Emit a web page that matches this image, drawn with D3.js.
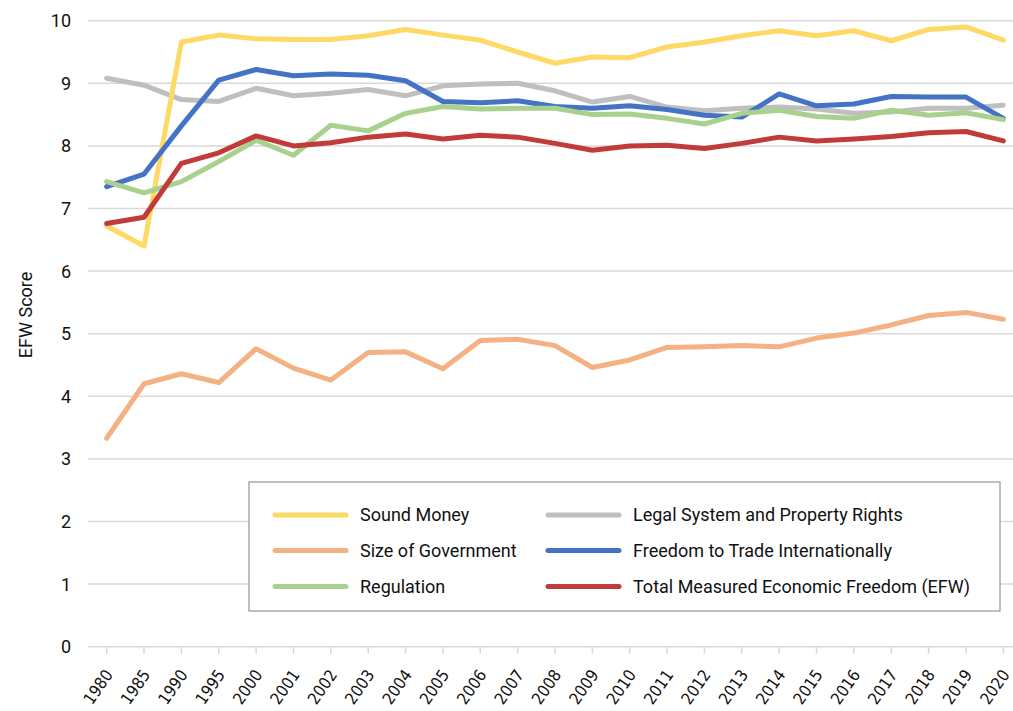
<!DOCTYPE html>
<html>
<head>
<meta charset="utf-8">
<script src="https://cdn.jsdelivr.net/npm/d3@7"></script>
<style>
  body { margin: 0; background: #fff; }
  svg { display: block; }
  .axis-y text, .legend text, .y-title { font-family: Roboto, "Noto Sans", sans-serif; fill: #111; }
  .axis-x text { font-family: "Liberation Sans Narrow", "DejaVu Sans Condensed", "Liberation Sans", sans-serif; fill: #111; }
</style>
</head>
<body>
<svg id="chart" width="1013" height="711"></svg>
<script>
const years = ['1980', '1985', '1990', '1995', '2000', '2001', '2002', '2003', '2004', '2005', '2006', '2007', '2008',
  '2009', '2010', '2011', '2012', '2013', '2014', '2015', '2016', '2017', '2018', '2019', '2020'];

const sizeOfGovernment = [3.33, 4.20, 4.36, 4.22, 4.76, 4.45, 4.26, 4.70, 4.71, 4.44, 4.89, 4.91, 4.81,
  4.46, 4.58, 4.78, 4.79, 4.81, 4.79, 4.93, 5.01, 5.14, 5.29, 5.34, 5.23];
const legalSystem = [9.08, 8.97, 8.74, 8.71, 8.92, 8.80, 8.84, 8.90, 8.80, 8.96, 8.99, 9.00, 8.88,
  8.70, 8.79, 8.62, 8.56, 8.60, 8.62, 8.59, 8.52, 8.54, 8.60, 8.60, 8.65];
const soundMoney = [6.72, 6.40, 9.66, 9.77, 9.71, 9.70, 9.70, 9.76, 9.86, 9.77, 9.69, 9.50, 9.32,
  9.42, 9.41, 9.58, 9.66, 9.76, 9.84, 9.76, 9.84, 9.68, 9.86, 9.90, 9.69];
const freedomToTrade = [7.35, 7.55, 8.32, 9.05, 9.22, 9.12, 9.15, 9.13, 9.04, 8.71, 8.69, 8.72, 8.63,
  8.60, 8.64, 8.58, 8.49, 8.46, 8.83, 8.64, 8.67, 8.79, 8.78, 8.78, 8.44];
const regulation = [7.43, 7.25, 7.43, 7.75, 8.09, 7.85, 8.33, 8.24, 8.52, 8.63, 8.59, 8.60, 8.60,
  8.50, 8.51, 8.44, 8.35, 8.52, 8.57, 8.47, 8.44, 8.57, 8.49, 8.53, 8.42];
const totalEFW = [6.76, 6.86, 7.72, 7.89, 8.16, 8.00, 8.05, 8.14, 8.19, 8.11, 8.17, 8.14, 8.04,
  7.93, 8.00, 8.01, 7.96, 8.04, 8.14, 8.08, 8.11, 8.15, 8.21, 8.23, 8.08];

const yTicks = [0, 1, 2, 3, 4, 5, 6, 7, 8, 9, 10];

// drawing order (later on top)
const series = [
  { name: 'Size of Government', values: sizeOfGovernment, color: '#F4B183' },
  { name: 'Legal System and Property Rights', values: legalSystem, color: '#BFBFBF' },
  { name: 'Sound Money', values: soundMoney, color: '#FFD966' },
  { name: 'Freedom to Trade Internationally', values: freedomToTrade, color: '#4472C4' },
  { name: 'Regulation', values: regulation, color: '#A9D18E' },
  { name: 'Total Measured Economic Freedom (EFW)', values: totalEFW, color: '#C23B3B' }
];

const legendOrder = [
  'Sound Money', 'Legal System and Property Rights',
  'Size of Government', 'Freedom to Trade Internationally',
  'Regulation', 'Total Measured Economic Freedom (EFW)'
];

const svg = d3.select('#chart');
const plot = { left: 88, right: 1022, top: 20.7, bottom: 646.7 };

const x = d3.scalePoint().domain(years).range([plot.left, plot.right]).padding(0.5);
const y = d3.scaleLinear().domain([0, 10]).range([plot.bottom, plot.top]);

// gridlines
svg.append('g')
  .selectAll('line')
  .data(yTicks)
  .join('line')
  .attr('x1', plot.left)
  .attr('x2', 1013)
  .attr('y1', d => y(d))
  .attr('y2', d => y(d))
  .attr('stroke', '#d9d9d9')
  .attr('stroke-width', 1.5);

// y axis labels
const gy = svg.append('g').attr('class', 'axis-y');
gy.selectAll('text')
  .data(yTicks)
  .join('text')
  .attr('x', 71)
  .attr('y', d => y(d))
  .attr('dy', '0.36em')
  .attr('text-anchor', 'end')
  .style('font-size', '18px')
  .text(d => d);

svg.append('text')
  .attr('class', 'y-title')
  .attr('transform', `translate(32,${y(5.3)}) rotate(-90)`)
  .attr('text-anchor', 'middle')
  .style('font-size', '18px')
  .text('EFW Score');

// x axis ticks + labels
const gx = svg.append('g').attr('class', 'axis-x');
gx.selectAll('line')
  .data(years)
  .join('line')
  .attr('x1', d => x(d))
  .attr('x2', d => x(d))
  .attr('y1', plot.bottom)
  .attr('y2', plot.bottom + 7)
  .attr('stroke', '#d9d9d9')
  .attr('stroke-width', 1.5);

gx.selectAll('text')
  .data(years)
  .join('text')
  .attr('transform', d => `translate(${x(d) + 7},${plot.bottom + 28}) rotate(-55)`)
  .attr('text-anchor', 'end')
  .style('font-size', '16.5px')
  .text(d => d);

// lines
const line = d3.line()
  .x((d, i) => x(years[i]))
  .y(d => y(d));

svg.append('g')
  .selectAll('path')
  .data(series)
  .join('path')
  .attr('d', d => line(d.values))
  .attr('fill', 'none')
  .attr('stroke', d => d.color)
  .attr('stroke-width', 5)
  .attr('stroke-linejoin', 'round')
  .attr('stroke-linecap', 'round');

// legend
const legend = svg.append('g').attr('class', 'legend');
legend.append('rect')
  .attr('x', 249)
  .attr('y', 482)
  .attr('width', 751)
  .attr('height', 129)
  .attr('fill', '#fff')
  .attr('stroke', '#808080')
  .attr('stroke-width', 1);

const colX = [275, 548];
const rowY = [515, 550.5, 586.5];

const items = legend.selectAll('g.item')
  .data(legendOrder.map(n => series.find(s => s.name === n)))
  .join('g')
  .attr('class', 'item')
  .attr('transform', (d, i) => `translate(${colX[i % 2]},${rowY[Math.floor(i / 2)]})`);

items.append('line')
  .attr('x1', 0)
  .attr('x2', 71)
  .attr('stroke', d => d.color)
  .attr('stroke-width', 5)
  .attr('stroke-linecap', 'round');

items.append('text')
  .attr('x', 85)
  .attr('dy', '0.36em')
  .style('font-size', '18px')
  .text(d => d.name);
</script>
</body>
</html>
